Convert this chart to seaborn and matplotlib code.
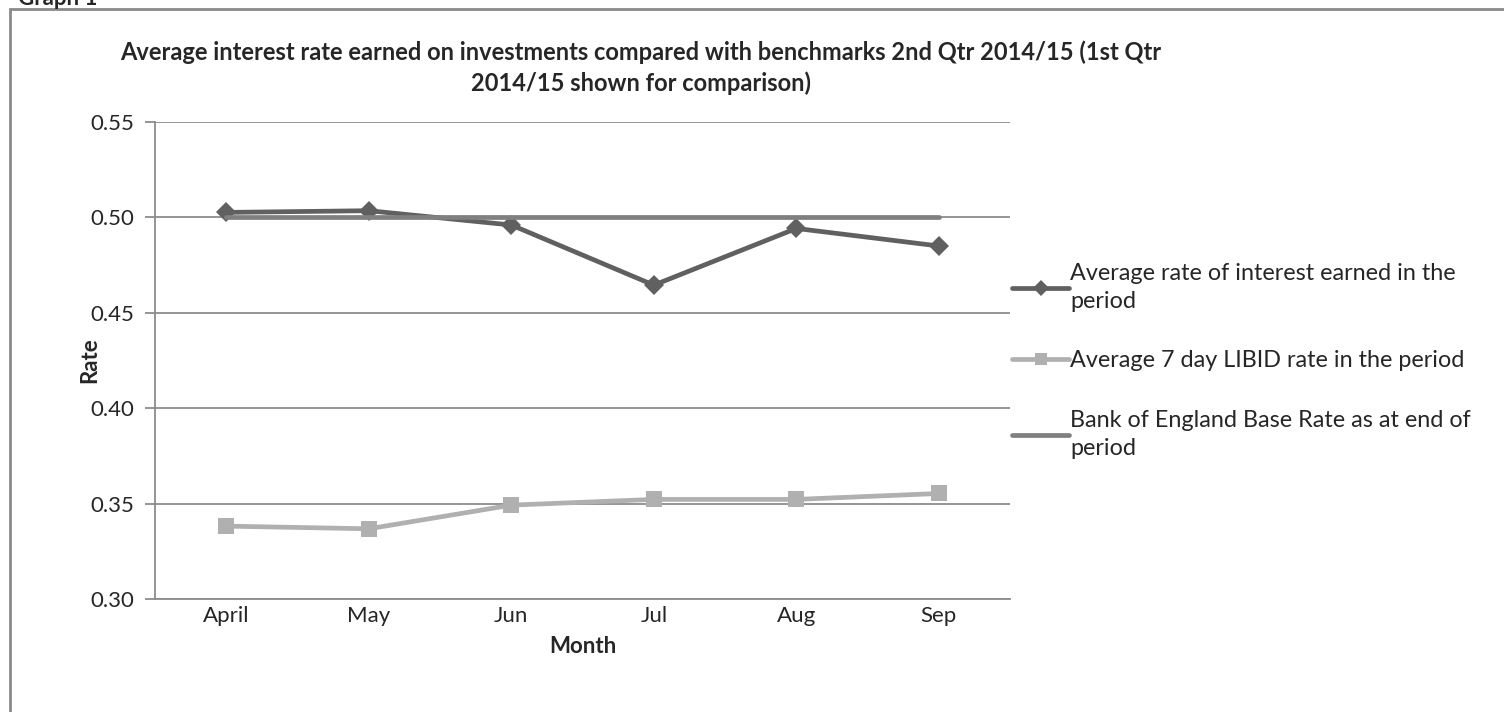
import pandas as pd
import seaborn as sns
import matplotlib.pyplot as plt
from matplotlib.patches import Rectangle

# Datos
meses = ['April', 'May', 'Jun', 'Jul', 'Aug', 'Sep']
tasa_media = [0.5026, 0.5035, 0.4960, 0.4645, 0.4942, 0.4850]
libid_7d = [0.3382, 0.3368, 0.3492, 0.3522, 0.3522, 0.3553]
tasa_base = [0.50, 0.50, 0.50, 0.50, 0.50, 0.50]

etiquetas = ['Average rate of interest earned in the\nperiod',
             'Average 7 day LIBID rate in the period',
             'Bank of England Base Rate as at end of\nperiod']

df = pd.DataFrame({'Month': meses, 'Media': tasa_media,
                   'Libid': libid_7d, 'Base': tasa_base})

sns.set_theme(style="white")
plt.rcParams['font.family'] = ['Lato', 'DejaVu Sans']

fig = plt.figure(figsize=(15.04, 7.12), dpi=100)
ax = fig.add_axes([0.1031, 0.1587, 0.5685, 0.670])

sns.lineplot(data=df, x='Month', y='Media', ax=ax, color='#606060',
             linewidth=3.4, marker='D', markersize=10, markeredgewidth=0,
             label=etiquetas[0], zorder=3)
sns.lineplot(data=df, x='Month', y='Libid', ax=ax, color='#b0b0b0',
             linewidth=3.4, marker='s', markersize=11, markeredgewidth=0,
             label=etiquetas[1], zorder=3)
sns.lineplot(data=df, x='Month', y='Base', ax=ax, color='#808080',
             linewidth=3.4, label=etiquetas[2], zorder=4)

ax.set_xlim(-0.5, len(meses) - 0.5)
ax.set_ylim(0.30, 0.55)
ax.set_yticks([0.30, 0.35, 0.40, 0.45, 0.50, 0.55])
ax.set_yticklabels([f'{v:.2f}' for v in ax.get_yticks()], fontsize=16)
ax.set_xticks(range(len(meses)))
ax.set_xticklabels(meses, fontsize=16)
ax.set_xticks([i - 0.5 for i in range(len(meses) + 1)], minor=True)
ax.tick_params(axis='x', which='major', length=0, pad=5)
ax.tick_params(axis='x', which='minor', length=7, width=1.3, color='#8c8c8c', direction='out')
ax.tick_params(axis='y', length=7, width=1.3, color='#8c8c8c', direction='out', left=True, pad=8)

ax.grid(True, axis='y', color='#8c8c8c', linewidth=1.3)
ax.set_axisbelow(True)
for lado in ['top', 'right']:
    ax.spines[lado].set_visible(False)
for lado in ['left', 'bottom']:
    ax.spines[lado].set_color('#8c8c8c')
    ax.spines[lado].set_linewidth(1.3)

ax.set_xlabel('Month', fontsize=16, fontweight='bold', labelpad=7)
ax.set_ylabel('Rate', fontsize=16, fontweight='bold')
ax.yaxis.set_label_coords(-0.064, 0.5)

fig.text(0.426, 0.905, 'Average interest rate earned on investments compared with benchmarks 2nd Qtr 2014/15 (1st Qtr\n2014/15 shown for comparison)',
         ha='center', va='center', fontsize=17, fontweight='bold', linespacing=1.35)

ax.get_legend().remove()
h, l = ax.get_legend_handles_labels()
leg = fig.legend(h, l, loc='upper left', bbox_to_anchor=(0.659, 0.660), frameon=False,
                 fontsize=16.8, handlelength=2.45, handletextpad=0.05, labelspacing=1.65,
                 markerscale=0.85)
for t in leg.get_texts():
    t.set_linespacing(1.4)

# Marco exterior
fig.patches.append(Rectangle((10 / 1504, -0.05), 1.2, 1.05 - 9 / 712, transform=fig.transFigure,
                             fill=False, edgecolor='#8a8a8a', linewidth=2))
fig.text(18 / 1504, 1 - 5 / 712, 'Graph 1', ha='left', va='baseline', fontsize=16, fontweight='bold')

plt.savefig('out.png', dpi=100)
